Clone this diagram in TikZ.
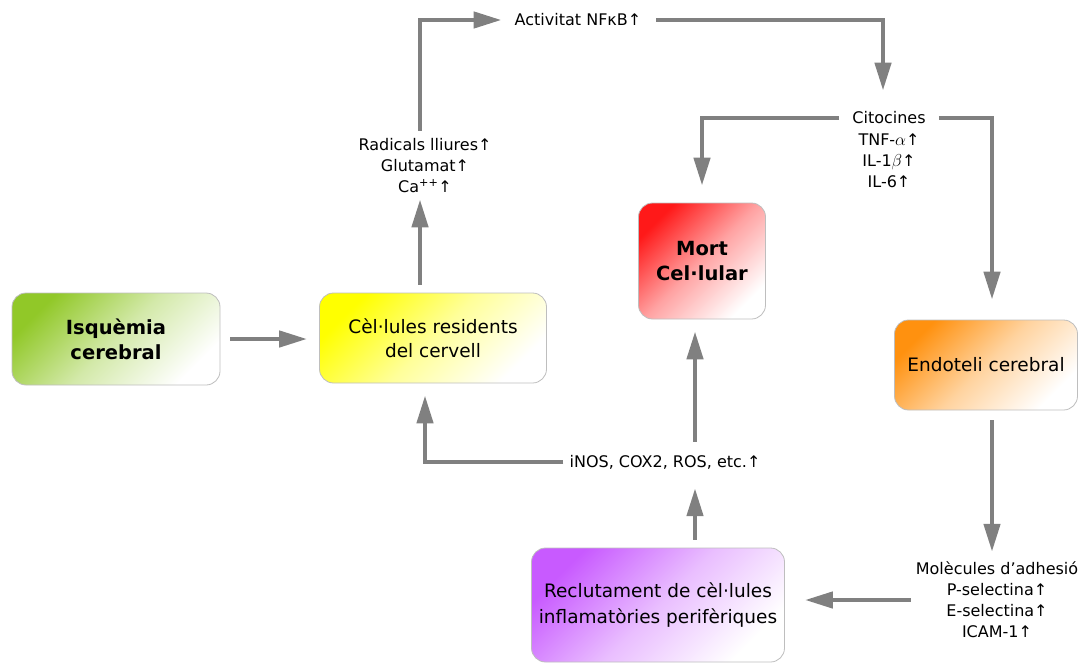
\documentclass[tikz,border=0pt]{standalone}
\usepackage{fontspec}
\setmainfont{DejaVu Sans}
\usetikzlibrary{arrows.meta}

\definecolor{fletxagris}{RGB}{128,128,128}
\definecolor{voragris}{RGB}{190,190,190}
\definecolor{verdisq}{RGB}{145,200,40}
\definecolor{grocres}{RGB}{255,255,0}
\definecolor{vermellmort}{RGB}{255,25,25}
\definecolor{taronjaendo}{RGB}{255,145,15}
\definecolor{liladrec}{RGB}{200,90,255}

\begin{document}
\begin{tikzpicture}[x=1pt,y=-1pt,
  caixa/.style={draw=voragris, line width=0.8pt, rounded corners=14pt, align=center,
    top color=#1, bottom color=white, middle color=#1!40!white, shading angle=45, inner sep=0pt,
    font=\fontsize{18.5}{24}\selectfont},
  negreta/.style={font=\fontsize{19.5}{25}\selectfont\bfseries},
  etiq/.style={align=center, inner sep=1pt, font=\fontsize{16}{21}\selectfont},
  fletxa/.style={draw=fletxagris, line width=4.5pt, -{Triangle[length=28pt,width=16pt]}}]
  \useasboundingbox (0,0) rectangle (1081,664);

  % caixes
  \node[caixa=verdisq, negreta, minimum width=208pt, minimum height=92pt] (isq) at (116,339) {Isquèmia\\cerebral};
  \node[caixa=grocres, minimum width=227pt, minimum height=90pt] (cel) at (433,338) {Cèl·lules residents\\del cervell};
  \node[caixa=vermellmort, negreta, minimum width=127pt, minimum height=116pt] (mort) at (702,261) {Mort\\Cel·lular};
  \node[caixa=taronjaendo, minimum width=183pt, minimum height=90pt] (endo) at (986,365) {Endoteli cerebral};
  \node[caixa=liladrec, minimum width=253pt, minimum height=114pt, font=\fontsize{18.5}{26}\selectfont] (rec) at (658,605) {Reclutament de cèl·lules\\inflamatòries perifèriques};

  % etiquetes
  \node[etiq] (nfkb) at (578,20) {Activitat NFκB↑};
  \node[etiq] (rad) at (425,166) {Radicals lliures↑\\Glutamat↑\\Ca\textsuperscript{++}↑};
  \node[etiq] (cit) at (889,118) {Citocines};
  \node[etiq] (citl) at (889,161) {TNF-$\alpha$↑\\IL-1$\beta$↑\\IL-6↑};
  \node[etiq] (inos) at (665,462) {iNOS, COX2, ROS, etc.↑};
  \node[etiq] (mol) at (997,600) {Molècules d’adhesió\\P-selectina↑\\E-selectina↑\\ICAM-1↑};

  % fletxes
  \draw[fletxa, shorten <=10pt, shorten >=12pt] (isq.east) -- (isq.east -| cel.west);
  \draw[fletxa, shorten <=8pt, shorten >=5pt] ([xshift=-13pt]cel.north) -- ([xshift=-13pt]cel.north |- rad.south);
  \draw[fletxa, shorten <=7pt, shorten >=12pt] ([xshift=-5pt]rad.north) |- (nfkb.west);
  \draw[fletxa, shorten <=14pt, shorten >=20pt] (nfkb.east) -| ([xshift=-6pt]cit.north);
  \draw[fletxa, shorten <=12pt, shorten >=17pt] (cit.west) -| (mort.north);
  \draw[fletxa, shorten <=12pt, shorten >=20pt] (cit.east) -| ([xshift=6pt]endo.north);
  \draw[fletxa, shorten <=10pt, shorten >=9pt] ([xshift=6pt]endo.south) -- ([xshift=6pt]endo.south |- mol.north);
  \draw[fletxa, shorten <=4pt, shorten >=20pt] (mol.west) -- (mol.west -| rec.east);
  \draw[fletxa, shorten <=8pt, shorten >=18pt] ([xshift=37pt]rec.north) -- ([xshift=37pt]rec.north |- inos.south);
  \draw[fletxa, shorten <=12pt, shorten >=12pt] ([xshift=-7pt]mort.south |- inos.north) -- ([xshift=-7pt]mort.south);
  \draw[fletxa, shorten <=5pt, shorten >=12pt] (inos.west) -| ([xshift=-8pt]cel.south);
\end{tikzpicture}
\end{document}
